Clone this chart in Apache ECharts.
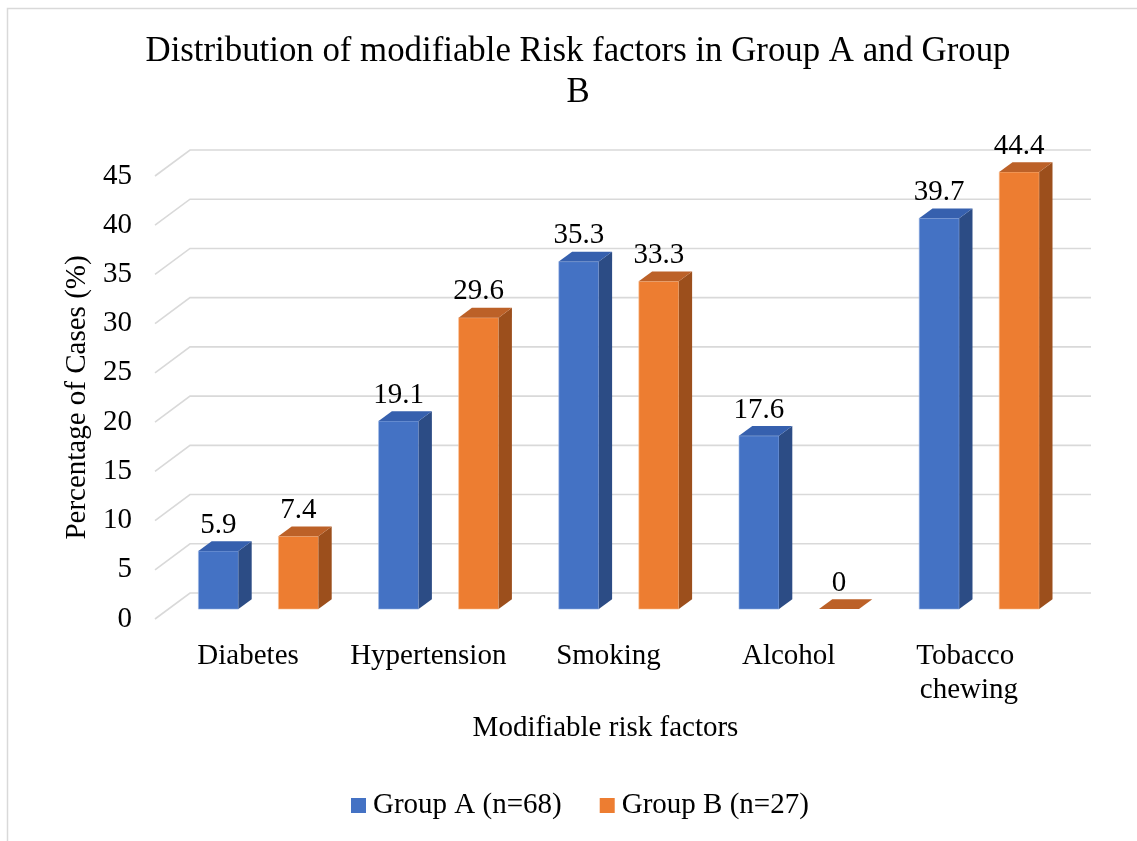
<!DOCTYPE html>
<html>
<head>
<meta charset="utf-8">
<script src="https://cdn.jsdelivr.net/npm/echarts@6/dist/echarts.min.js"></script>
<style>
  html, body { margin: 0; padding: 0; background: #fff; }
  #chart { width: 1137px; height: 841px; }
</style>
</head>
<body>
<div id="chart"></div>
<script>
// Risk factor distribution, percentage of cases per group
const categories = ['Diabetes', 'Hypertension', 'Smoking', 'Alcohol', 'Tobacco chewing'];
const groupA = [5.9, 19.1, 35.3, 17.6, 39.7];
const groupB = [7.4, 29.6, 33.3, 0, 44.4];
const seriesNames = ['Group A (n=68)', 'Group B (n=27)'];
const yTicks = [0, 5, 10, 15, 20, 25, 30, 35, 40, 45];

const FONT = '"Liberation Serif", "Times New Roman", serif';
const FS = 29;

// The grid is the front edge of the floor; the walls recede up and to the right.
const DEPTH = [35, -26];
const BAR_FRONT = 0.38;   // depth fraction of a bar's front face
const BAR_BACK = 0.76;    // depth fraction of a bar's back face

const faces = [
  { front: '#4472C4', top: '#3660AE', side: '#2C4C85', edge: 'rgba(160,185,230,0.6)' },
  { front: '#ED7D31', top: '#BC6128', side: '#9C4F1C', edge: 'rgba(250,200,160,0.6)' }
];

function renderGridLine(params, api) {
  const cs = params.coordSys;
  const y = api.coord([0, api.value(1)])[1];
  const x0 = cs.x, x1 = cs.x + cs.width;
  return {
    type: 'polyline',
    silent: true,
    shape: { points: [[x0, y], [x0 + DEPTH[0], y + DEPTH[1]], [x1 + DEPTH[0], y + DEPTH[1]]] },
    style: { stroke: '#d9d9d9', lineWidth: 1.6, fill: null }
  };
}

function makeBarRenderer(k) {
  return function (params, api) {
    const i = api.value(0);
    const v = api.value(1);
    const band = api.size([1, 0])[0];
    const w = band * 0.222;
    const base = api.coord([i, 0]);
    const top = api.coord([i, v]);
    const cx = base[0] + (k === 0 ? -1 : 1) * band * 0.222;
    const fx = BAR_FRONT * DEPTH[0], fy = BAR_FRONT * DEPTH[1];
    const dx = (BAR_BACK - BAR_FRONT) * DEPTH[0], dy = (BAR_BACK - BAR_FRONT) * DEPTH[1];
    const L = cx - w / 2 + fx, R = cx + w / 2 + fx;
    const B = base[1] + fy, T = top[1] + fy;
    const c = faces[k];
    const children = [];
    if (T < B - 0.5) {
      children.push({
        type: 'polygon',
        shape: { points: [[L, B], [R, B], [R, T], [L, T]] },
        style: { fill: c.front, stroke: c.edge, lineWidth: 1 }
      });
      children.push({
        type: 'polygon',
        shape: { points: [[R, B], [R + dx, B + dy], [R + dx, T + dy], [R, T]] },
        style: { fill: c.side }
      });
    }
    children.push({
      type: 'polygon',
      shape: { points: [[L, T], [R, T], [R + dx, T + dy], [L + dx, T + dy]] },
      style: { fill: c.top }
    });
    children.push({
      type: 'text',
      style: {
        text: String(v),
        x: cx + fx,
        y: T + dy - 16,
        align: 'center',
        verticalAlign: 'middle',
        fontSize: FS,
        fontFamily: FONT,
        fill: '#000'
      }
    });
    return { type: 'group', children: children };
  };
}

const chart = echarts.init(document.getElementById('chart'), null, { renderer: 'canvas' });

chart.setOption({
  animation: false,
  backgroundColor: '#fff',
  color: [faces[0].front, faces[1].front],
  title: {
    text: 'Distribution of modifiable Risk factors in Group A and Group\nB',
    left: 578,
    top: 31,
    textAlign: 'center',
    padding: 0,
    textStyle: { fontFamily: FONT, fontSize: 34.8, fontWeight: 'normal', color: '#000', lineHeight: 41 }
  },
  legend: {
    data: seriesNames,
    left: 351,
    top: 791,
    padding: 0,
    itemGap: 38,
    itemWidth: 15,
    itemHeight: 15,
    icon: 'rect',
    textStyle: { fontFamily: FONT, fontSize: FS, color: '#000', padding: [0, 0, 0, 2] }
  },
  graphic: [{
    type: 'rect',
    silent: true,
    z: -10,
    shape: { x: 7.5, y: 8.5, width: 1300, height: 1000 },
    style: { fill: null, stroke: '#d9d9d9', lineWidth: 1.5 }
  }],
  grid: { left: 155, right: 81, top: 176, bottom: 222 },
  xAxis: {
    type: 'category',
    data: categories,
    axisLine: { show: false },
    axisTick: { show: false },
    axisLabel: {
      fontFamily: FONT, fontSize: FS, color: '#000', margin: 20,
      width: 175, overflow: 'break', lineHeight: 34, interval: 0,
      padding: [0, 0, 0, 6]
    },
    name: 'Modifiable risk factors',
    nameLocation: 'middle',
    nameGap: 95,
    nameTextStyle: { fontFamily: FONT, fontSize: FS, color: '#000' }
  },
  yAxis: {
    type: 'value',
    min: 0,
    max: 45,
    interval: 5,
    axisLine: { show: false },
    axisTick: { show: false },
    splitLine: { show: false },
    axisLabel: { fontFamily: FONT, fontSize: FS, color: '#000', margin: 23 },
    name: 'Percentage of Cases (%)',
    nameLocation: 'middle',
    nameRotate: 90,
    nameGap: 60,
    nameTextStyle: { fontFamily: FONT, fontSize: FS, color: '#000' }
  },
  series: [
    {
      type: 'custom',
      name: 'grid-lines',
      z: 1,
      silent: true,
      renderItem: renderGridLine,
      encode: { x: 0, y: 1 },
      data: yTicks.map(function (t) { return [0, t]; })
    },
    {
      type: 'custom',
      name: seriesNames[0],
      z: 2,
      itemStyle: { color: faces[0].front },
      renderItem: makeBarRenderer(0),
      encode: { x: 0, y: 1 },
      data: groupA.map(function (v, i) { return [i, v]; })
    },
    {
      type: 'custom',
      name: seriesNames[1],
      z: 2,
      itemStyle: { color: faces[1].front },
      renderItem: makeBarRenderer(1),
      encode: { x: 0, y: 1 },
      data: groupB.map(function (v, i) { return [i, v]; })
    }
  ]
});
</script>
</body>
</html>
